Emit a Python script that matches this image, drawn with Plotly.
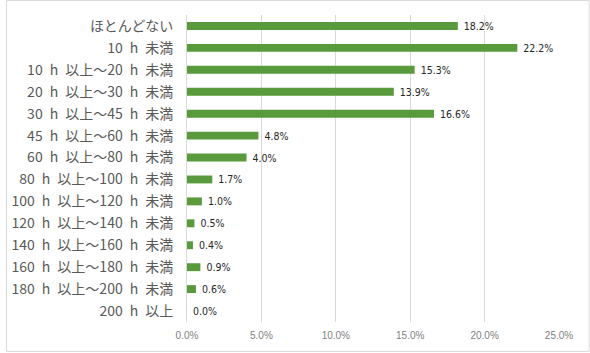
import plotly.graph_objects as go

categories = ["ほとんどない", "10 h 未満", "10 h 以上～20 h 未満", "20 h 以上～30 h 未満",
              "30 h 以上～45 h 未満", "45 h 以上～60 h 未満", "60 h 以上～80 h 未満",
              "80 h 以上～100 h 未満", "100 h 以上～120 h 未満", "120 h 以上～140 h 未満",
              "140 h 以上～160 h 未満", "160 h 以上～180 h 未満", "180 h 以上～200 h 未満",
              "200 h 以上"]
values = [18.2, 22.2, 15.3, 13.9, 16.6, 4.8, 4.0, 1.7, 1.0, 0.5, 0.4, 0.9, 0.6, 0.0]
labels = [f"{v:.1f}%" for v in values]
tick_vals = [0, 5, 10, 15, 20, 25]
tick_text = ["0.0%", "5.0%", "10.0%", "15.0%", "20.0%", "25.0%"]

W, H = 590, 353
L, R, T, B = 183, 31, 15, 30

fig = go.Figure(go.Bar(
    x=values, y=categories, orientation="h",
    marker=dict(color="#589A3C", line=dict(width=0)),
    text=labels, texttemplate=" %{text}", textposition="outside",
    constraintext="none",
    textfont=dict(family="DejaVu Sans Condensed, Liberation Sans", size=10.5, color="#262626"),
    cliponaxis=False,
))

pw, ph = W - L - R, H - T - B
fig.add_shape(type="rect", xref="paper", yref="paper",
              x0=-(L - 0.5) / pw, x1=1 + (R - 0.5) / pw,
              y0=-(B - 0.5) / ph, y1=1 + (T - 0.5) / ph,
              line=dict(color="#D9D9D9", width=1), fillcolor="rgba(0,0,0,0)", layer="below")

fig.update_layout(
    width=W, height=H, margin=dict(l=L, r=R, t=T, b=B),
    paper_bgcolor="white", plot_bgcolor="white",
    bargap=0.64, showlegend=False,
    xaxis=dict(range=[0, 25], tickvals=tick_vals, ticktext=tick_text,
               showgrid=True, gridcolor="#D9D9D9", gridwidth=1,
               zeroline=False, showline=False, ticks="", ticklen=0,
               ticklabelstandoff=6,
               tickfont=dict(family="Liberation Sans", size=10, color="#808080")),
    yaxis=dict(autorange="reversed", showgrid=False, zeroline=False,
               showline=True, linecolor="#D9D9D9", linewidth=1, ticks="",
               ticklabelstandoff=10,
               tickvals=categories,
               ticktext=[c.replace(" ", "\u2002") for c in categories],
               tickfont=dict(family="Noto Sans CJK JP", size=14, color="#595959")),
)

fig.write_html("out.html")
